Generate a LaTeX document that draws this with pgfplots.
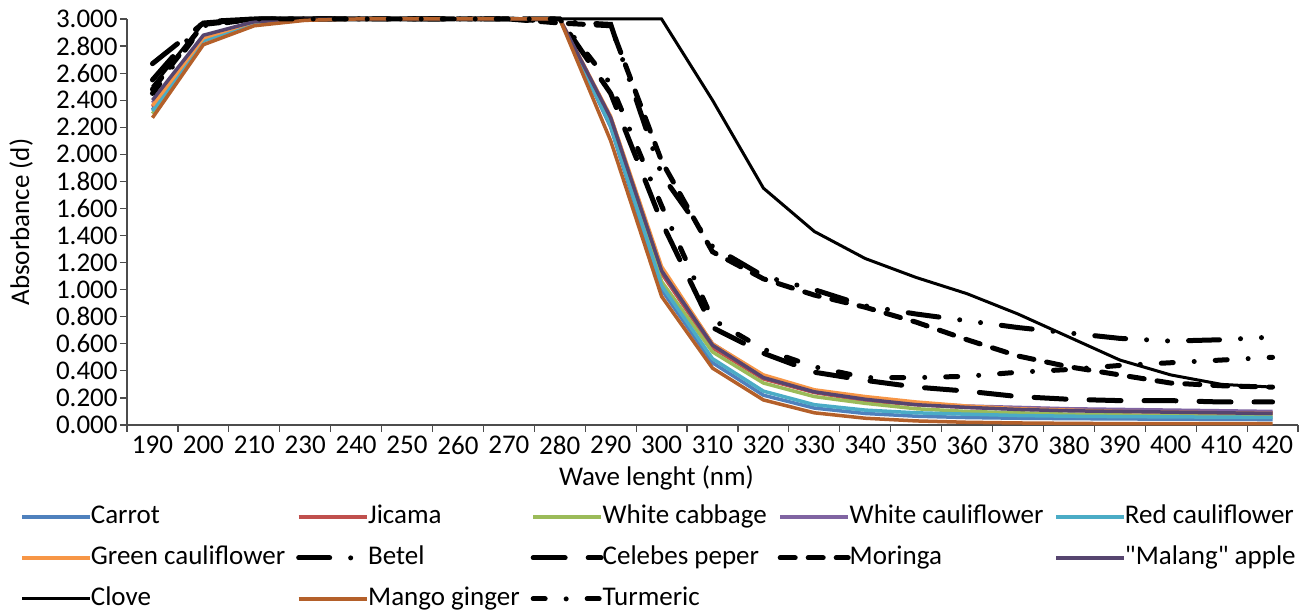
\documentclass[border=0pt]{standalone}
\usepackage{pgfplots}
\usepackage{pgfplotstable}
\pgfplotsset{compat=1.18}
\usepackage{fontspec}
\setmainfont{Carlito}
\newfontfamily\plainq{Carlito}
\definecolor{cCarrot}{HTML}{4F81BD}
\definecolor{cJicama}{HTML}{C0504D}
\definecolor{cWCabb}{HTML}{9BBB59}
\definecolor{cWCaul}{HTML}{8064A2}
\definecolor{cRCaul}{HTML}{4BACC6}
\definecolor{cGCaul}{HTML}{F79646}
\definecolor{cMalang}{HTML}{56456F}
\definecolor{cMango}{HTML}{B4602A}

\pgfplotstableread{
idx Carrot Jicama WCabb WCaul RCaul GCaul Betel Celebes Moringa Malang Clove Mango Turmeric
0  2.33 2.35 2.30 2.38 2.32 2.36 2.55 2.67 2.48 2.40 2.50 2.27 2.45
1  2.84 2.85 2.84 2.87 2.84 2.86 2.98 2.97 2.96 2.88 2.97 2.81 2.95
2  2.97 2.97 2.97 2.98 2.97 2.98 3.00 3.00 3.00 2.98 3.00 2.95 3.00
3  3.00 3.00 3.00 3.00 3.00 3.00 3.00 3.00 3.00 3.00 3.00 2.99 3.00
4  3.00 3.00 3.00 3.00 3.00 3.00 3.00 3.00 3.00 3.00 3.00 3.00 3.00
5  3.00 3.00 3.00 3.00 3.00 3.00 3.00 3.00 3.00 3.00 3.00 3.00 3.00
6  3.00 3.00 3.00 3.00 3.00 3.00 3.00 3.00 3.00 3.00 3.00 3.00 3.00
7  3.00 3.00 3.00 3.00 3.00 3.00 3.00 3.00 3.00 3.00 3.00 3.00 3.00
8  3.00 3.00 3.00 3.00 3.00 3.00 2.98 3.00 2.97 3.00 3.00 3.00 3.00
9  2.20 2.25 2.22 2.27 2.21 2.28 2.96 2.45 2.95 2.27 3.00 2.10 2.52
10 1.00 1.12 1.06 1.15 1.03 1.17 1.85 1.50 1.95 1.14 3.00 0.95 1.62
11 0.46 0.57 0.54 0.60 0.49 0.60 1.32 0.72 1.28 0.59 2.40 0.42 0.78
12 0.22 0.34 0.31 0.36 0.25 0.37 1.10 0.53 1.08 0.35 1.75 0.185 0.56
13 0.125 0.24 0.21 0.25 0.15 0.26 1.00 0.39 0.96 0.245 1.43 0.09 0.43
14 0.085 0.18 0.16 0.19 0.11 0.21 0.88 0.33 0.87 0.19 1.23 0.05 0.35
15 0.065 0.15 0.12 0.16 0.09 0.17 0.82 0.28 0.76 0.15 1.09 0.03 0.35
16 0.055 0.13 0.10 0.14 0.08 0.14 0.77 0.25 0.63 0.13 0.97 0.02 0.36
17 0.05 0.12 0.09 0.13 0.07 0.12 0.72 0.21 0.51 0.115 0.82 0.015 0.39
18 0.047 0.11 0.08 0.12 0.065 0.11 0.68 0.19 0.43 0.105 0.65 0.012 0.41
19 0.045 0.105 0.075 0.115 0.062 0.10 0.64 0.18 0.37 0.10 0.48 0.01 0.44
20 0.043 0.10 0.07 0.11 0.06 0.095 0.62 0.18 0.31 0.095 0.37 0.01 0.46
21 0.042 0.095 0.068 0.105 0.058 0.09 0.63 0.17 0.29 0.09 0.30 0.01 0.48
22 0.04 0.09 0.065 0.10 0.056 0.085 0.65 0.17 0.28 0.085 0.28 0.01 0.50
}\data

\begin{document}
\fontsize{13.5}{16}\selectfont
\begin{tikzpicture}
\begin{axis}[
  scale only axis,
  width=585.5pt, height=203pt,
  xmin=-0.5, xmax=22.5, ymin=0, ymax=3,
  clip=false,
  axis lines*=left,
  axis line style={black!70, line width=0.6pt},
  tick align=outside,
  xtick={0,...,22},
  xticklabels={190,200,210,230,240,250,260,270,280,290,300,310,320,330,340,350,360,370,380,390,400,410,420},
  minor xtick={-0.5,0.5,...,22.5},
  major x tick style={draw=none},
  minor x tick style={black!70, line width=0.6pt},
  minor tick length=3.5pt,
  ytick={0,0.2,...,3.01},
  major tick length=3.5pt,
  ytick style={black!70, line width=0.6pt},
  /pgf/number format/assume math mode=true,
  yticklabel style={inner sep=1pt, /pgf/number format/.cd, fixed, fixed zerofill, precision=3},
  xticklabel style={inner sep=1pt, yshift=-1pt},
  ylabel={Absorbance (d)},
  xlabel={Wave lenght (nm)},
  ylabel style={at={(axis description cs:0,0.5)}, anchor=center, yshift=53pt},
  xlabel style={at={(axis description cs:0.5,0)}, anchor=center, yshift=-26.5pt, xshift=-28pt},
  legend columns=5,
  legend cell align=left,
  legend image code/.code={\draw[#1] (0pt,0pt) -- (34pt,0pt);},
  legend style={at={(0,0)}, anchor=north west, xshift=-53.5pt, yshift=-38.5pt,
    draw=none, inner sep=0pt, row sep=6pt,
    nodes={inner sep=1pt, text height=9.5pt, text depth=3pt},
    /tikz/every odd column/.append style={column sep=-1.5pt},
    /tikz/every even column/.append style={column sep=4.5pt}},
]
\addplot[cCarrot, line width=1.75pt] table[x=idx,y=Carrot]{\data};
\addlegendentry{Carrot}
\addplot[cJicama, line width=1.75pt] table[x=idx,y=Jicama]{\data};
\addlegendentry{Jicama}
\addplot[cWCabb, line width=1.75pt] table[x=idx,y=WCabb]{\data};
\addlegendentry{White cabbage}
\addplot[cWCaul, line width=1.75pt] table[x=idx,y=WCaul]{\data};
\addlegendentry{White cauliflower\hspace{12.5pt}}
\addplot[cRCaul, line width=1.75pt] table[x=idx,y=RCaul]{\data};
\addlegendentry{Red cauliflower}
\addplot[cGCaul, line width=1.75pt] table[x=idx,y=GCaul]{\data};
\addlegendentry{Green cauliflower}
\addplot[black, line width=2.5pt, line cap=round, dash pattern=on 15.5pt off 10.5pt on 0pt off 10.5pt on 0pt off 10.5pt] table[x=idx,y=Betel]{\data};
\addlegendentry{Betel}
\addplot[black, line width=2.5pt, line cap=round, dash pattern=on 16pt off 11.5pt] table[x=idx,y=Celebes]{\data};
\addlegendentry{Celebes peper}
\addplot[black, line width=2.5pt, line cap=round, dash pattern=on 7.5pt off 6.5pt] table[x=idx,y=Moringa]{\data};
\addlegendentry{Moringa}
\addplot[cMalang, line width=1.75pt] table[x=idx,y=Malang]{\data};
\addlegendentry{{\plainq"}Malang{\plainq"} apple}
\addplot[black, line width=1.5pt] table[x=idx,y=Clove]{\data};
\addlegendentry{Clove}
\addplot[cMango, line width=1.75pt] table[x=idx,y=Mango]{\data};
\addlegendentry{Mango ginger}
\addplot[black, line width=2.5pt, line cap=round, dash pattern=on 6pt off 10.5pt on 0pt off 10.5pt] table[x=idx,y=Turmeric]{\data};
\addlegendentry{Turmeric}
\end{axis}
\pgfresetboundingbox
\useasboundingbox ([xshift=-63.5pt,yshift=-94pt]current axis.south west) rectangle ([xshift=5.5pt,yshift=9.5pt]current axis.north east);
\end{tikzpicture}
\end{document}
